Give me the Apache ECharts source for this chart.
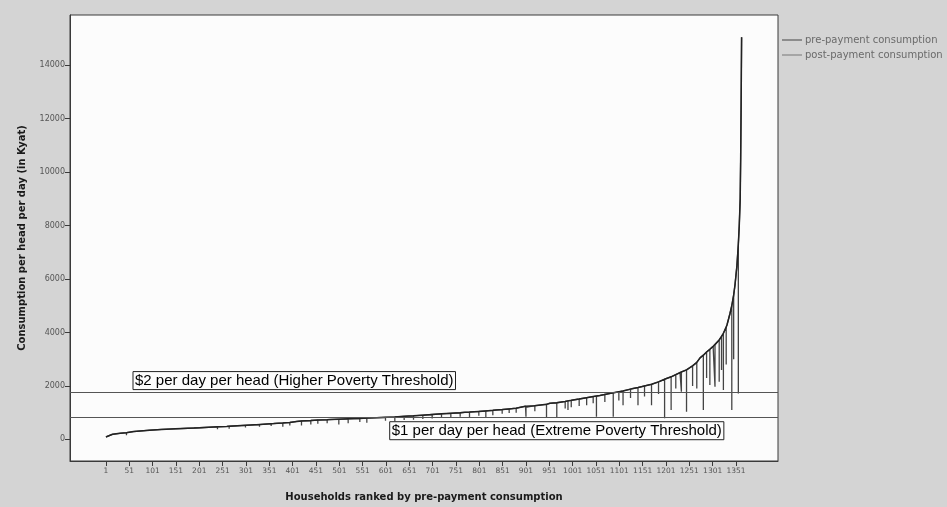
<!DOCTYPE html>
<html><head><meta charset="utf-8">
<script src="https://cdn.jsdelivr.net/npm/echarts@6/dist/echarts.min.js"></script>
<style>html,body{margin:0;padding:0;background:#d4d4d4}#c{width:947px;height:507px}</style>
</head><body><div id="c"></div>
<script>
// ---- data ----
const xTickLabels = [1,51,101,151,201,251,301,351,401,451,501,551,601,651,701,751,801,851,901,951,1001,1051,1101,1151,1201,1251,1301,1351];
const yTickLabels = [0,2000,4000,6000,8000,10000,12000,14000];

// pre-payment consumption curve (household rank, kyat per head per day)
const preHH  = [1,5,15,31,60,95,150,202,260,310,360,410,480,581,650,702,770,838,900,952,1000,1059,1100,1130,1170,1202,1231,1252,1274,1290,1302,1315,1324,1332,1338,1344,1349,1353,1356,1358,1360,1361,1362,1363];
const preVal = [90,150,190,225,290,345,395,435,485,535,590,670,740,810,870,935,1010,1100,1240,1350,1470,1640,1780,1900,2060,2280,2500,2680,3050,3300,3480,3720,3970,4300,4700,5200,5800,6500,7300,8000,9000,10500,12500,15050];

// households whose post-payment consumption dips below pre-payment
const dipHH     = [45,120,190,240,265,300,330,355,380,395,420,440,455,475,500,520,545,560,600,620,640,660,680,700,720,740,760,780,800,815,830,850,865,880,901,920,945,967,985,991,998,1015,1031,1045,1052,1070,1088,1100,1109,1125,1141,1155,1170,1185,1198,1212,1222,1234,1245,1258,1267,1281,1288,1295,1306,1315,1320,1324,1330,1342,1346,1356];
const dipTop    = [250,370,425,470,490,525,555,585,615,635,690,705,720,735,755,770,785,795,825,840,860,880,905,930,955,975,995,1020,1045,1065,1085,1115,1140,1165,1200,1260,1310,1370,1420,1440,1460,1510,1560,1600,1620,1680,1740,1780,1810,1880,1940,2000,2060,2150,2250,2340,2420,2520,2600,2750,2880,3150,3270,3370,3540,3720,3850,3970,4200,5000,5400,7300];
const dipBottom = [150,300,360,380,400,440,470,500,470,520,520,560,580,600,560,600,650,620,700,680,720,730,760,780,800,820,850,830,880,800,900,960,990,1000,850,1050,800,800,1150,1100,1200,1250,1280,1350,850,1400,850,1450,1280,1550,1280,1600,1280,1700,790,1100,1900,1780,1035,2000,1900,1100,2300,2030,1970,2160,2600,1845,2800,1100,3000,1720];

// poverty thresholds
const thresholdValues = [1750, 810];
const thresholdLabels = ['$2 per day per head (Higher Poverty Threshold)', '$1 per day per head (Extreme Poverty Threshold)'];
const thresholdLabelHH = [59, 609];

// ---- build series ----
const pts = [];
preHH.forEach((h,i)=>pts.push({h, top:preVal[i], dip:null}));
dipHH.forEach((h,i)=>pts.push({h, top:dipTop[i], dip:dipBottom[i]}));
pts.sort((a,b)=>a.h-b.h);
const preData = pts.map(p=>[p.h,p.top]);
const postData = [];
pts.forEach(p=>{
  postData.push([p.h,p.top]);
  if(p.dip!==null){ postData.push([p.h,p.dip]); postData.push([p.h,p.top]); }
});

const chart = echarts.init(document.getElementById('c'), null, {renderer:'canvas'});
const font = '"DejaVu Sans", sans-serif';
const option = {
  animation:false,
  backgroundColor:'#d4d4d4',
  grid:{left:70,right:169,top:15,bottom:46,show:true,backgroundColor:'#fcfcfc',borderColor:'#3a3a3a',borderWidth:1},
  legend:{
    left:777, top:30, orient:'vertical', itemWidth:20, itemHeight:10, itemGap:5,
    textStyle:{fontFamily:font,fontSize:10,color:'#6a6a6a',padding:[0,0,0,-2]},
    data:[{name:'pre-payment consumption',icon:'path://M0,5 L20,5 L20,6 L0,6 Z'},{name:'post-payment consumption',icon:'path://M0,5 L20,5 L20,6 L0,6 Z'}]
  },
  xAxis:{
    type:'value', min:-76, max:1441,
    name:'Households ranked by pre-payment consumption',
    nameLocation:'middle', nameGap:31,
    nameTextStyle:{fontFamily:font,fontWeight:'bold',fontSize:10,color:'#1a1a1a'},
    axisLine:{show:true,onZero:false,lineStyle:{color:'#3a3a3a'}},
    axisTick:{show:true,length:5,customValues:xTickLabels,lineStyle:{color:'#3a3a3a'}},
    axisLabel:{customValues:xTickLabels,formatter:v=>String(v),fontFamily:font,fontSize:7.5,color:'#555',margin:6},
    splitLine:{show:false}
  },
  yAxis:{
    type:'value', min:-810, max:15880,
    name:'Consumption per head per day (in Kyat)',
    nameLocation:'middle', nameGap:43, nameRotate:90,
    nameTextStyle:{fontFamily:font,fontWeight:'bold',fontSize:10,color:'#1a1a1a'},
    axisLine:{show:true,onZero:false,lineStyle:{color:'#3a3a3a'}},
    axisTick:{show:true,length:5,customValues:yTickLabels,lineStyle:{color:'#3a3a3a'}},
    axisLabel:{customValues:yTickLabels,formatter:v=>String(v),fontFamily:font,fontSize:8,color:'#555',margin:5},
    splitLine:{show:false}
  },
  series:[
    {name:'post-payment consumption',type:'line',data:postData,symbol:'none',
     lineStyle:{color:'#444',width:1.3},itemStyle:{color:'#777'},z:2,
     markLine:{silent:true,symbol:'none',label:{show:false},
       lineStyle:{color:'#555',width:1.2,type:'solid'},
       data:thresholdValues.map(v=>({yAxis:v}))}},
    {name:'pre-payment consumption',type:'line',data:preData,symbol:'none',
     lineStyle:{color:'#222',width:1.5},itemStyle:{color:'#444'},z:3}
  ]
};
chart.setOption(option);
const g = thresholdValues.map((v,i)=>{
  const p = chart.convertToPixel({xAxisIndex:0,yAxisIndex:0},[thresholdLabelHH[i], v]);
  return {type:'text', x:p[0], y: i===0 ? p[1]-3 : p[1]+4, z:10,
    style:{text:thresholdLabels[i], font:'15px "Liberation Sans", Arial, sans-serif', fill:'#000',
      borderColor:'#222', borderWidth:1, padding:[2,2,1,2], verticalAlign: i===0?'bottom':'top', align:'left'}};
});
chart.setOption({graphic:g});
</script>
</body></html>
